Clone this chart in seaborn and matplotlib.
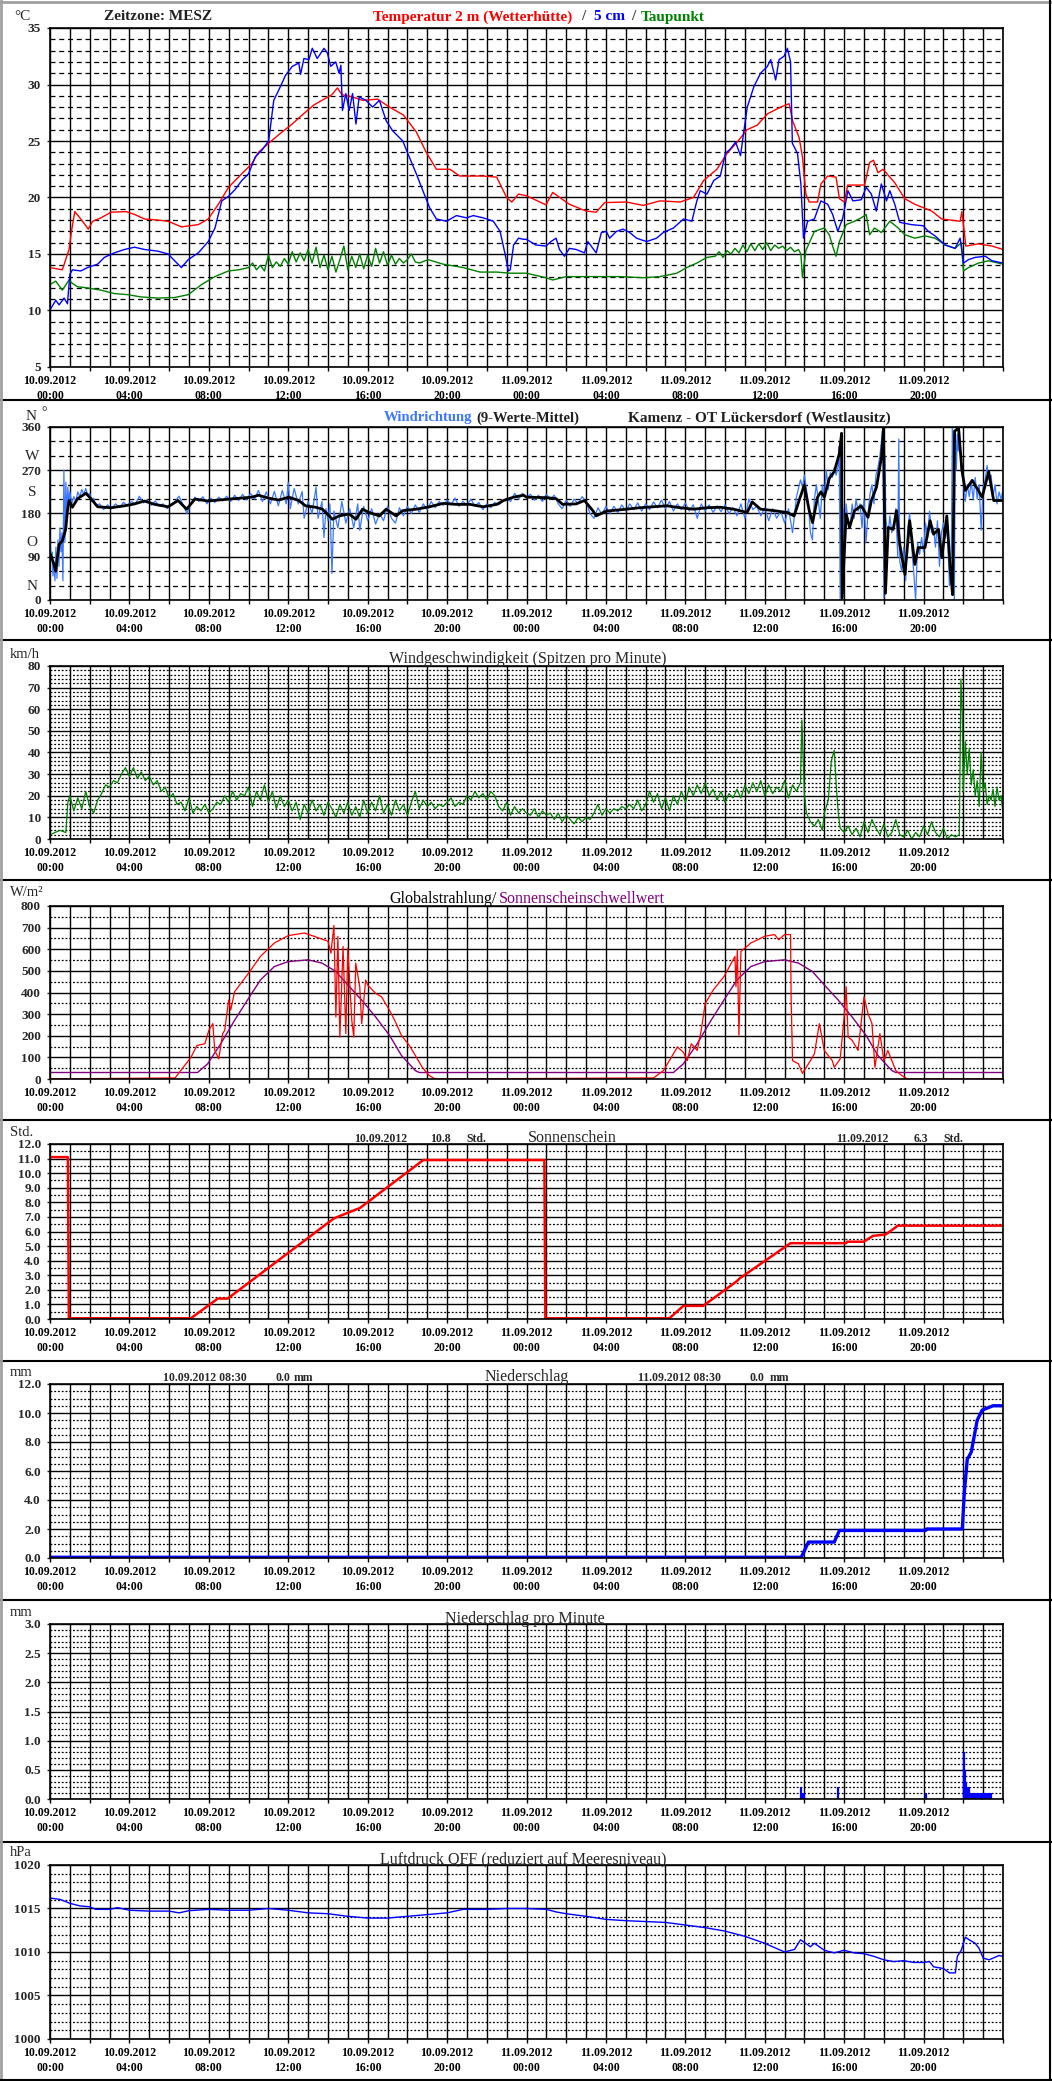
import seaborn as sns
import matplotlib
matplotlib.use('Agg')
import matplotlib.pyplot as plt
from matplotlib.ticker import MultipleLocator, FixedLocator
from matplotlib.lines import Line2D

# ---------------- data (hours since 10.09.2012 00:00) ----------------
temp_t = [0, 0.62, 0.96, 1.08, 1.25, 1.55, 1.93, 2.15, 2.57, 3.07, 3.83, 4.26, 4.76, 5.44, 5.95, 6.62,
          7.47, 7.97, 8.48, 8.99, 9.66, 10.17, 10.5, 11.01, 11.69, 12.2, 12.7, 13.3, 13.7, 14.2, 14.48,
          14.7, 15.24, 15.74, 16.5, 17.1, 17.8, 18.45, 18.95, 19.46, 20.14, 20.64, 21.82, 22.5, 23.0,
          23.26, 23.6, 24.0, 24.98, 25.32, 26.16, 27.0, 27.51, 27.94, 29.03, 29.88, 30.72, 31.74, 32.41,
          32.92, 33.59, 34.1, 34.61, 35.11, 35.62, 36.13, 36.8, 37.23, 37.4, 37.73, 37.9, 38.07, 38.24,
          38.66, 38.83, 39.17, 39.59, 39.76, 40.01, 40.18, 41.03, 41.28, 41.48, 41.7, 41.96, 42.55,
          43.05, 43.56, 44.41, 44.91, 45.84, 45.93, 46.13, 46.77, 47.45, 48.0]
temp_v = [13.8, 13.6, 15.4, 17.0, 18.75, 18.1, 17.2, 17.9, 18.2, 18.7, 18.75, 18.5, 18.1, 18.0, 17.9, 17.4,
          17.6, 18.1, 19.4, 20.9, 22.1, 23.0, 24.0, 24.8, 25.8, 26.5, 27.3, 28.2, 28.6, 29.1, 29.7,
          29.1, 28.9, 28.6, 28.7, 28.0, 27.3, 25.8, 24.0, 22.5, 22.5, 21.9, 21.9, 21.8, 20.0,
          19.6, 20.3, 20.15, 19.35, 20.45, 19.4, 18.8, 18.7, 19.55, 19.6, 19.3, 19.7, 19.6, 20.0,
          21.5, 22.5, 23.9, 24.9, 26.0, 26.4, 27.4, 28.0, 28.3, 26.8, 25.3, 23.6, 20.3, 19.6,
          19.6, 21.2, 21.9, 21.8, 19.9, 19.6, 21.1, 21.1, 23.1, 23.3, 22.2, 22.5, 21.3,
          19.9, 19.4, 18.8, 18.1, 17.9, 18.75, 15.7, 15.9, 15.7, 15.4]

soil_t = [0, 0.29, 0.46, 0.71, 0.88, 1.0, 1.13, 1.55, 1.89, 2.4, 2.74, 3.24, 3.75, 4.26, 4.76, 5.44, 5.95,
          6.28, 6.62, 6.96, 7.47, 7.97, 8.31, 8.65, 8.99, 9.32, 9.66, 10.0, 10.34, 10.68, 11.01, 11.1,
          11.27, 11.52, 11.86, 12.2, 12.53, 12.62, 12.79, 13.04, 13.21, 13.46, 13.8, 13.97, 14.14, 14.39,
          14.56, 14.65, 14.73, 14.9, 15.07, 15.24, 15.41, 15.57, 15.91, 16.25, 16.59, 16.93, 17.26, 17.77,
          18.02, 18.45, 18.78, 19.12, 19.46, 19.97, 20.47, 20.98, 21.32, 21.82, 22.33, 22.67, 22.92,
          23.09, 23.18, 23.35, 23.6, 23.85, 24.0, 24.47, 24.98, 25.23, 25.49, 25.66, 25.91, 26.16, 26.5,
          26.92, 27.09, 27.34, 27.51, 27.77, 28.02, 28.19, 28.53, 28.86, 29.2, 29.54, 30.05, 30.55, 30.89,
          31.4, 31.91, 32.33, 32.58, 32.75, 33.09, 33.43, 33.76, 34.02, 34.27, 34.53, 34.78, 34.95, 35.12,
          35.45, 35.79, 36.13, 36.3, 36.55, 36.72, 36.97, 37.14, 37.3, 37.39, 37.65, 37.82, 37.95, 38.16,
          38.5, 38.83, 39.17, 39.42, 39.68, 39.93, 40.19, 40.44, 40.86, 41.11, 41.37, 41.62, 41.87, 42.13,
          42.3, 42.55, 42.8, 43.39, 43.98, 44.24, 44.58, 45.08, 45.59, 45.84, 46.01, 46.26, 46.6, 47.11,
          47.45, 48.0]
soil_v = [10.05, 10.9, 10.5, 11.1, 10.6, 13.2, 13.6, 13.5, 13.8, 14.1, 14.7, 15.1, 15.4, 15.6, 15.4, 15.25, 15.0,
          14.4, 13.8, 14.5, 15.1, 16.1, 17.3, 19.7, 20.1, 20.7, 21.5, 22.1, 23.6, 24.2, 25.0, 26.2,
          28.6, 29.5, 30.8, 31.6, 31.9, 30.9, 32.3, 32.2, 33.2, 32.3, 33.2, 32.8, 31.6, 32.0,
          31.0, 31.7, 27.7, 29.2, 27.7, 29.2, 26.5, 28.9, 28.6, 28.0, 28.6, 26.8, 25.9, 25.0,
          23.9, 22.1, 20.6, 19.1, 18.1, 17.9, 18.4, 18.2, 18.4, 18.2, 17.9, 17.0, 15.0,
          13.5, 13.6, 15.8, 16.4, 16.3, 16.3, 15.8, 15.7, 16.1, 16.4, 15.4, 14.8, 15.5, 15.4,
          15.1, 16.1, 15.5, 15.1, 16.9, 17.0, 16.4, 17.0, 17.2, 16.9, 16.4, 16.1, 16.4, 16.9,
          17.3, 18.1, 17.9, 19.7, 20.6, 20.3, 21.5, 21.9, 23.9, 24.3, 24.9, 23.7, 25.9, 28.0,
          29.8, 31.0, 31.6, 32.2, 30.4, 32.2, 32.5, 33.2, 32.0, 24.8, 23.9, 21.2, 16.4, 17.9,
          18.1, 19.7, 19.4, 18.5, 17.0, 18.2, 20.6, 19.7, 19.8, 20.9, 20.3, 18.8, 21.2, 19.7,
          20.6, 19.4, 17.8, 17.6, 17.5, 17.0, 16.6, 15.8, 15.5, 16.4, 14.2, 14.5, 14.7, 14.8,
          14.4, 14.2]

dew_t = [0, 0.29, 0.62, 0.96, 1.13, 1.39, 1.89, 2.57, 3.24, 3.92, 4.59, 5.44, 6.28, 6.96, 7.64, 8.31,
         8.99, 9.49, 10.0, 10.2, 10.4, 10.6, 10.8, 11.0, 11.2, 11.4, 11.6, 11.8, 12.0, 12.2, 12.4, 12.6,
         12.8, 13.0, 13.2, 13.4, 13.6, 13.8, 14.0, 14.2, 14.4, 14.6, 14.8, 15.0, 15.2, 15.4, 15.6, 15.8,
         16.0, 16.2, 16.4, 16.6, 16.8, 17.0, 17.2, 17.4, 17.6, 17.8, 18.0, 18.2, 18.4, 18.6, 19.04, 19.8,
         20.81, 21.66, 22.5, 23.18, 24.0, 24.98, 25.32, 26.0, 27.34, 28.7, 29.88, 30.72, 31.57, 32.07,
         32.58, 33.09, 33.5, 33.7, 33.9, 34.1, 34.3, 34.5, 34.7, 34.9, 35.1, 35.3, 35.5, 35.7, 35.9,
         36.1, 36.3, 36.5, 36.7, 36.9, 37.1, 37.3, 37.5, 37.7, 37.82, 37.9, 38.07, 38.5, 39.0, 39.25,
         39.42, 39.59, 39.76, 40.1, 40.52, 40.86, 41.11, 41.28, 41.53, 41.87, 42.3, 42.72, 43.06, 43.56,
         44.07, 44.58, 45.08, 45.59, 45.9, 46.01, 46.26, 46.77, 47.27, 48.0]
dew_v = [12.3, 12.6, 11.8, 12.7, 12.4, 12.1, 12.0, 11.8, 11.5, 11.4, 11.2, 11.1, 11.15, 11.4, 12.3, 13.0,
         13.5, 13.6, 13.8, 14.2, 13.6, 14.0, 13.5, 14.9, 13.8, 14.3, 13.9, 14.6, 14.1, 15.2, 14.3, 15.1,
         14.4, 15.4, 14.2, 15.6, 13.8, 14.9, 13.6, 14.8, 13.4, 14.5, 15.7, 13.6, 14.8, 13.8, 15.0, 13.7,
         14.9, 13.9, 15.5, 14.2, 15.2, 14.0, 14.9, 14.1, 14.6, 14.2, 14.5, 15.0, 14.3, 14.2, 14.5, 14.1,
         13.8, 13.4, 13.4, 13.3, 13.3, 12.9, 12.7, 13.0, 13.0, 13.0, 12.9, 13.0, 13.3, 13.8,
         14.2, 14.7, 14.8, 15.2, 14.7, 15.3, 15.0, 15.5, 15.1, 15.8, 15.2, 15.9, 15.3, 15.9, 15.4,
         16.0, 15.3, 15.8, 15.5, 15.7, 15.3, 15.6, 15.2, 15.4, 15.0, 12.9, 15.3, 17.0, 17.3, 16.7,
         15.7, 14.8, 16.1, 17.6, 17.9, 18.2, 18.5, 16.7, 17.3, 16.9, 17.9, 17.3, 16.7, 16.4,
         16.6, 16.4, 15.8, 15.5, 16.0, 13.5, 13.8, 14.2, 14.4, 14.1]

dir_raw_t = [0.0, 0.05, 0.1, 0.15, 0.2, 0.25, 0.3, 0.35, 0.4, 0.45, 0.5, 0.55, 0.6, 0.65, 0.7, 0.75, 0.8,
             0.85, 0.9, 0.95, 1.0, 1.1, 1.2, 1.3, 1.4, 1.5, 1.6, 1.7, 1.8, 1.9, 2.0, 2.1, 2.2, 2.3, 2.5,
             2.7, 2.9, 3.1, 3.3, 3.5, 3.7, 3.9, 4.1, 4.3, 4.5, 4.7, 4.9, 5.1, 5.3, 5.5, 5.7, 5.9, 6.1,
             6.3, 6.5, 6.7, 6.9, 7.1, 7.3, 7.5, 7.7, 7.9, 8.1, 8.3, 8.5, 8.7, 8.9, 9.1, 9.3, 9.5, 9.7,
             9.9, 10.1, 10.3, 10.5, 10.7, 10.9, 11.1, 11.3, 11.5, 11.7, 11.9, 12.0, 12.1, 12.3, 12.5,
             12.7, 12.8, 13.0, 13.2, 13.4, 13.5, 13.7, 13.8, 13.9, 14.0, 14.1, 14.2, 14.3, 14.5, 14.7,
             14.9, 15.1, 15.3, 15.5, 15.6, 15.8, 16.0, 16.2, 16.4, 16.6, 16.8, 17.0, 17.2, 17.4, 17.6,
             17.8, 18.0, 18.2, 18.4, 18.6, 18.8, 19.0, 19.2, 19.4, 19.6, 19.8, 20.0, 20.2, 20.4, 20.6,
             20.8, 21.0, 21.2, 21.4, 21.6, 21.8, 22.0, 22.2, 22.4, 22.6, 22.8, 23.0, 23.2, 23.4, 23.6,
             23.8, 24.0, 24.2, 24.4, 24.6, 24.8, 25.0, 25.2, 25.4, 25.6, 25.8, 26.0, 26.2, 26.4, 26.6,
             26.8, 27.0, 27.2, 27.4, 27.6, 27.8, 28.0, 28.2, 28.4, 28.6, 28.8, 29.0, 29.2, 29.4, 29.6,
             29.8, 30.0, 30.2, 30.4, 30.6, 30.8, 31.0, 31.2, 31.4, 31.6, 31.8, 32.0, 32.2, 32.4, 32.6,
             32.8, 33.0, 33.2, 33.4, 33.6, 33.8, 34.0, 34.2, 34.4, 34.6, 34.8, 35.0, 35.2, 35.4, 35.6,
             35.8, 36.0, 36.2, 36.4, 36.6, 36.8, 37.0, 37.2, 37.4, 37.6, 37.8, 37.9, 38.0, 38.2, 38.3,
             38.4, 38.5, 38.6, 38.7, 38.8, 38.9, 39.0, 39.1, 39.2, 39.3, 39.4, 39.5, 39.6, 39.7, 39.75,
             39.8, 39.85, 39.9, 39.95, 40.0, 40.1, 40.2, 40.3, 40.4, 40.5, 40.6, 40.7, 40.8, 40.9, 41.0,
             41.1, 41.2, 41.3, 41.4, 41.5, 41.6, 41.7, 41.8, 41.9, 41.95, 42.0, 42.05, 42.1, 42.2, 42.3,
             42.4, 42.5, 42.6, 42.7, 42.75, 42.8, 42.9, 43.0, 43.1, 43.2, 43.3, 43.4, 43.5, 43.6, 43.7,
             43.8, 43.9, 44.0, 44.1, 44.2, 44.3, 44.4, 44.5, 44.6, 44.7, 44.8, 44.9, 45.0, 45.1, 45.2,
             45.3, 45.4, 45.45, 45.5, 45.55, 45.6, 45.65, 45.7, 45.75, 45.8, 45.9, 46.0, 46.1, 46.2, 46.3,
             46.4, 46.5, 46.6, 46.7, 46.8, 46.9, 47.0, 47.1, 47.2, 47.3, 47.4, 47.5, 47.6, 47.7, 47.8,
             47.9, 48.0]
dir_raw_v = [130, 90, 100, 50, 80, 40, 110, 45, 125, 70, 150, 100, 140, 40, 270, 120, 245,
             170, 235, 195, 225, 200, 215, 205, 225, 215, 230, 220, 232, 218, 222, 205, 212, 196, 200,
             188, 198, 190, 200, 193, 203, 196, 205, 200, 216, 202, 208, 197, 206, 195, 200, 190, 198,
             205, 216, 198, 180, 200, 214, 205, 215, 200, 212, 203, 214, 206, 216, 205, 218, 207, 220,
             208, 222, 210, 228, 205, 225, 200, 226, 196, 228, 200, 245, 190, 232, 200,
             226, 170, 205, 180, 235, 170, 205, 130, 190, 165, 200, 55, 185, 150, 205,
             160, 190, 150, 200, 145, 195, 165, 190, 158, 180, 165, 195, 170, 160, 192,
             175, 195, 180, 198, 182, 200, 188, 205, 192, 205, 197, 208, 198, 212, 195,
             205, 198, 210, 195, 203, 188, 200, 192, 203, 198, 205, 212, 205, 222, 210,
             222, 213, 220, 208, 218, 205, 220, 210, 218, 200, 190, 208, 195, 210, 200,
             215, 205, 180, 170, 192, 178, 195, 180, 195, 182, 198, 185, 200, 188, 202,
             185, 200, 188, 204, 192, 208, 190, 205, 185, 200, 188, 202, 185, 198, 170,
             200, 185, 198, 182, 196, 184, 198, 180, 192, 175, 200, 170, 210, 188, 195,
             175, 192, 165, 190, 170, 185, 160, 190, 140, 215, 250, 235, 260, 200, 140,
             125, 210, 240, 205, 170, 240, 215, 270, 230, 265, 255, 275, 260, 280, 320,
             0, 330, 10, 190, 130, 200, 160, 150, 200, 170, 210, 185, 200, 150, 210,
             120, 180, 220, 240, 200, 260, 275, 300, 340, 360, 5, 300, 170, 130, 175,
             140, 160, 190, 90, 335, 80, 60, 110, 40, 150, 180, 110, 60, 0, 120,
             95, 130, 100, 160, 130, 185, 140, 150, 110, 165, 70, 140, 160, 130, 150,
             30, 110, 360, 330, 0, 350, 270, 345, 310, 360, 270, 250, 205, 240, 215,
             245, 210, 255, 210, 240, 145, 235, 250, 280, 250, 260, 215, 240, 200, 225,
             210, 230]

dir_avg_t = [0.03, 0.2, 0.29, 0.37, 0.46, 0.62, 0.79, 0.88, 0.96, 1.13, 1.39, 1.81, 2.06, 2.4, 3.07,
             3.75, 4.26, 4.76, 5.27, 5.95, 6.45, 6.88, 7.3, 7.97, 8.48, 9.32, 10.17, 10.5, 11.01, 11.52,
             12.03, 12.53, 12.87, 13.38, 13.72, 13.97, 14.22, 14.56, 15.07, 15.41, 15.74, 16.08, 16.59,
             16.93, 17.43, 17.77, 18.45, 19.12, 19.8, 20.47, 21.15, 21.82, 22.5, 22.84, 23.35, 23.85,
             24.0, 24.98, 25.49, 25.82, 26.5, 26.92, 27.34, 27.51, 28.02, 28.53, 29.03, 29.71, 30.39,
             31.06, 31.74, 32.41, 33.09, 33.76, 34.44, 35.11, 35.37, 35.79, 36.47, 37.14, 37.48, 37.73,
             37.99, 38.24, 38.41, 38.66, 38.83, 39.0, 39.25, 39.5, 39.76, 39.87, 39.9, 40.1, 40.27,
             40.52, 40.86, 41.2, 41.37, 41.63, 41.88, 41.98, 42.08, 42.22, 42.47, 42.64, 42.8, 43.06,
             43.3, 43.56, 43.73, 44.07, 44.33, 44.5, 44.75, 44.92, 45.17, 45.34, 45.46, 45.56, 45.76,
             45.93, 46.1, 46.45, 46.7, 46.95, 47.28, 47.53, 48.0]
dir_avg_v = [95, 74, 60, 88, 116, 123, 147, 186, 207, 193, 211, 222, 211, 194, 192,
             196, 200, 206, 199, 194, 207, 189, 210, 206, 208, 211, 214, 218, 212, 208,
             214, 207, 196, 193, 189, 179, 168, 175, 179, 168, 189, 182, 175,
             189, 175, 186, 189, 194, 201, 199, 199, 194, 199, 207, 214, 218,
             214, 213, 211, 199, 200, 207, 186, 175, 185, 187, 189, 192, 194,
             196, 192, 189, 192, 193, 189, 182, 204, 189, 186, 182, 175, 207,
             239, 186, 161, 214, 225, 214, 253, 267, 305, 347, 4, 179, 151,
             186, 196, 172, 207, 235, 298, 358, 14, 151, 147, 186, 116, 53,
             165, 74, 109, 109, 165, 137, 147, 88, 175, 67, 11, 351, 358,
             270, 228, 249, 232, 214, 267, 207, 207]

gust_t = [0, 0.5, 0.8, 0.9, 1.0, 1.2, 1.4, 1.6, 1.8, 2.0, 2.2, 2.4, 2.6, 2.8, 3.0, 3.2, 3.4, 3.6, 3.8,
          4.0, 4.2, 4.4, 4.6, 4.8, 5.0, 5.2, 5.4, 5.6, 5.8, 6.0, 6.2, 6.4, 6.6, 6.8, 7.0, 7.2, 7.4, 7.6,
          7.8, 8.0, 8.2, 8.4, 8.6, 8.8, 9.0, 9.2, 9.4, 9.6, 9.8, 10.0, 10.2, 10.4, 10.6, 10.8, 11.0,
          11.2, 11.4, 11.6, 11.8, 12.0, 12.2, 12.4, 12.6, 12.8, 13.0, 13.2, 13.4, 13.6, 13.8, 14.0,
          14.2, 14.4, 14.6, 14.8, 15.0, 15.2, 15.4, 15.6, 15.8, 16.0, 16.2, 16.4, 16.6, 16.8, 17.0,
          17.2, 17.4, 17.6, 17.8, 18.0, 18.2, 18.4, 18.6, 18.8, 19.0, 19.2, 19.4, 19.6, 19.8, 20.0,
          20.2, 20.4, 20.6, 20.8, 21.0, 21.2, 21.4, 21.6, 21.8, 22.0, 22.2, 22.4, 22.6, 22.8, 23.0,
          23.2, 23.4, 23.6, 23.8, 24.0, 24.2, 24.4, 24.6, 24.8, 25.0, 25.2, 25.4, 25.6, 25.8, 26.0,
          26.2, 26.4, 26.6, 26.8, 27.0, 27.2, 27.4, 27.6, 27.8, 28.0, 28.2, 28.4, 28.6, 28.8, 29.0,
          29.2, 29.4, 29.6, 29.8, 30.0, 30.2, 30.4, 30.6, 30.8, 31.0, 31.2, 31.4, 31.6, 31.8, 32.0,
          32.2, 32.4, 32.6, 32.8, 33.0, 33.2, 33.4, 33.6, 33.8, 34.0, 34.2, 34.4, 34.6, 34.8, 35.0,
          35.2, 35.4, 35.6, 35.8, 36.0, 36.2, 36.4, 36.6, 36.8, 37.0, 37.2, 37.4, 37.6, 37.8, 37.87,
          38.0, 38.1, 38.3, 38.5, 38.7, 38.9, 39.0, 39.2, 39.35, 39.5, 39.6, 39.7, 39.8, 40.0, 40.2,
          40.4, 40.6, 40.8, 41.0, 41.2, 41.4, 41.6, 41.8, 42.0, 42.2, 42.4, 42.6, 42.8, 43.0, 43.2,
          43.4, 43.6, 43.8, 44.0, 44.2, 44.4, 44.6, 44.8, 45.0, 45.2, 45.4, 45.6, 45.8, 45.88, 45.95,
          46.0, 46.1, 46.2, 46.3, 46.4, 46.5, 46.6, 46.7, 46.8, 46.9, 47.0, 47.1, 47.2, 47.3, 47.4,
          47.5, 47.6, 47.7, 47.8, 47.9, 48.0]
gust_v = [2, 4, 3, 17, 20, 13, 19, 14, 22, 15, 12, 18, 21, 25, 24, 27, 26, 30, 33,
          29, 33, 28, 31, 27, 29, 25, 27, 22, 24, 19, 21, 16, 17, 13, 19, 12, 15, 13,
          16, 12, 14, 17, 16, 20, 17, 22, 18, 21, 20, 24, 15, 22, 18, 25, 17,
          22, 14, 20, 15, 18, 13, 17, 9, 16, 12, 18, 13, 16, 11, 17,
          14, 10, 16, 12, 17, 11, 15, 10, 18, 12, 17, 13, 20, 12, 16,
          11, 18, 13, 16, 11, 17, 22, 14, 18, 15, 17, 14, 16, 15, 17,
          19, 15, 17, 16, 20, 18, 22, 19, 21, 18, 22, 20, 15, 13, 17,
          11, 15, 12, 14, 12, 11, 14, 10, 13, 11, 12, 9, 12, 8, 11,
          9, 7, 10, 8, 10, 9, 12, 16, 11, 14, 12, 14, 13, 15, 14,
          16, 14, 18, 13, 16, 22, 17, 21, 14, 19, 13, 20, 16, 22, 17,
          24, 20, 25, 21, 26, 20, 23, 18, 22, 17, 21, 19, 23, 19, 25,
          21, 26, 22, 27, 20, 25, 21, 24, 22, 27, 19, 25, 22, 26, 55,
          20, 12, 8, 6, 9, 4, 12, 18, 36, 41, 25, 12, 5, 3, 6,
          2, 5, 1, 8, 3, 9, 5, 2, 7, 1, 3, 9, 2, 1, 4,
          0, 3, 1, 6, 2, 8, 3, 1, 5, 0, 2, 1, 2, 74, 58,
          22, 45, 30, 42, 25, 32, 20, 27, 15, 40, 22, 26, 16, 20, 18,
          23, 15, 24, 18, 20, 12]

rad_t = [0, 6.3, 7.1, 7.4, 7.8, 8.0, 8.2, 8.3, 8.5, 8.7, 8.8, 9.0, 9.1, 9.3, 10.0, 10.6, 11.3, 12.0,
         12.8, 13.3, 14.0, 14.15, 14.3, 14.4, 14.5, 14.6, 14.76, 14.9, 15.0, 15.2, 15.3, 15.4, 15.6,
         15.7, 15.9, 16.0, 16.4, 16.7, 17.1, 17.4, 17.7, 18.1, 18.4, 18.75, 19.1, 19.4, 30.4, 30.9,
         31.6, 31.9, 32.1, 32.3, 32.6, 32.8, 33.0, 33.4, 33.95, 34.5, 34.55, 34.62, 34.7, 34.8, 35.3,
         36.0, 36.5, 36.7, 37.0, 37.3, 37.33, 37.4, 37.7, 37.9, 38.2, 38.5, 38.75, 39.0, 39.4, 39.5,
         39.8, 40.0, 40.1, 40.2, 40.4, 40.7, 41.0, 41.2, 41.4, 41.55, 41.8, 42.0, 42.2, 42.6, 42.9,
         43.2, 48.0]
rad_v = [0, 5, 100, 155, 163, 225, 256, 132, 93, 210, 225, 365, 318, 404, 489, 567, 629, 663,
         675, 660, 637, 582, 710, 287, 660, 194, 613, 210, 606, 272, 194, 536, 427,
         256, 458, 435, 396, 380, 318, 264, 202, 155, 109, 54, 16, 0, 5, 39,
         148, 124, 85, 163, 132, 225, 349, 411, 474, 567, 427, 598, 202, 590, 629,
         660, 668, 644, 668, 668, 365, 85, 70, 26, 70, 116, 256, 132, 85, 54,
         93, 287, 427, 194, 179, 132, 380, 303, 256, 54, 210, 85, 132, 39, 16,
         0, 0]

thresh_t = [0, 7.43, 7.94, 8.6, 9.3, 10.0, 10.6, 11.3, 12.0, 13.0, 13.7, 14.4, 15.0, 15.7, 16.4, 17.1,
            17.7, 18.4, 18.6, 31.4, 31.9, 32.6, 33.3, 34.0, 34.6, 35.3, 36.0, 37.0, 37.7, 38.4, 39.0,
            39.7, 40.4, 41.1, 41.7, 42.4, 42.6, 48.0]
thresh_v = [30, 30, 70, 163, 272, 373, 458, 520, 543, 551, 536, 497, 435, 365, 287, 202,
            109, 39, 30, 30, 70, 163, 272, 373, 458, 520, 543, 551, 536, 497, 435,
            365, 287, 202, 109, 39, 30, 30]

sun_t = [0, 0.9, 0.95, 7.1, 8.45, 8.95, 14.3, 15.4, 15.6, 18.8, 24.9, 24.95, 31.2, 31.9, 32.9,
         34.6, 34.75, 37.3, 40.1, 40.15, 40.98, 41.45, 42.1, 42.7, 48.0]
sun_v = [11.1, 11.1, 0.05, 0.05, 1.4, 1.4, 6.9, 7.5, 7.6, 10.9, 10.9, 0.05, 0.05, 0.9, 0.9,
         2.6, 2.8, 5.2, 5.2, 5.3, 5.3, 5.7, 5.8, 6.4, 6.4]

rain_sum_t = [0, 37.84, 38.2, 39.5, 39.76, 44.1, 44.15, 45.95, 46.05, 46.2, 46.4, 46.7, 46.95, 47.5, 48.0]
rain_sum_v = [0.05, 0.05, 1.1, 1.1, 1.9, 1.9, 2.0, 2.0, 4.5, 6.8, 7.3, 9.5, 10.2, 10.5, 10.5]

rain_min_t = [37.84, 37.87, 37.9, 37.93, 37.96, 39.7, 44.13, 46.03, 46.05, 46.08, 46.1, 46.13, 46.17,
              46.2, 46.23, 46.27, 46.3, 46.35, 46.4, 46.45, 46.5, 46.55, 46.6, 46.65, 46.7, 46.75,
              46.8, 46.85, 46.9, 46.95, 47.0, 47.1, 47.2, 47.3, 47.4]
rain_min_v = [0.2, 0.1, 0.1, 0.1, 0.1, 0.2, 0.1, 0.8, 0.5, 0.5, 0.3, 0.3, 0.1,
              0.1, 0.2, 0.2, 0.1, 0.1, 0.1, 0.1, 0.1, 0.1, 0.1, 0.1, 0.1, 0.1,
              0.1, 0.1, 0.1, 0.1, 0.1, 0.1, 0.1, 0.1, 0.1]

qff_t = [0, 0.5, 1, 1.5, 2, 2.3, 3, 3.4, 4, 5, 6, 6.5, 7, 8, 9, 10, 11, 12, 13, 14, 15, 16, 17, 18, 19,
         20, 20.6, 20.8, 21, 22, 23, 24, 25, 25.5, 26, 27, 28, 29, 30, 31, 32, 33, 34, 35, 36, 36.5, 37,
         37.5, 37.8, 38, 38.3, 38.5, 39, 39.5, 40, 40.5, 41, 41.5, 42, 42.5, 43, 43.5, 44, 44.3, 44.5,
         45, 45.3, 45.6, 45.7, 45.9, 46.1, 46.3, 46.6, 46.8, 47.0, 47.3, 47.6, 47.8, 48]
qff_v = [1016.2, 1016.05, 1015.6, 1015.3, 1015.2, 1014.9, 1014.9, 1015.1, 1014.8, 1014.7, 1014.7, 1014.5,
         1014.75, 1014.9, 1014.8, 1014.8, 1015.0, 1014.8, 1014.5, 1014.4, 1014.1, 1013.9, 1013.9, 1014.1,
         1014.3, 1014.5, 1014.8, 1014.9, 1014.9, 1014.9, 1015.0, 1015.0, 1014.9, 1014.6, 1014.4, 1014.1,
         1013.75, 1013.6, 1013.5, 1013.4, 1013.1, 1012.8, 1012.4, 1011.8, 1011.0, 1010.5, 1010.0,
         1010.3, 1011.4, 1011.1, 1010.6, 1011.0, 1010.2, 1009.9, 1010.2, 1009.9, 1009.8, 1009.5, 1009.1,
         1008.9, 1009.0, 1008.8, 1008.8, 1008.9, 1008.3, 1008.1, 1007.6, 1007.6, 1009.5, 1010.2, 1011.7,
         1011.4, 1011.0, 1010.4, 1009.3, 1009.1, 1009.4, 1009.6, 1009.5]

xtick_hours = list(range(0, 49, 2))
day_labels = ['10.09.2012', '11.09.2012']

# ---------------- layout ----------------
W, H = 1052, 2081
panels_px = [(28, 367), (427, 600), (666, 839), (906, 1079),
             (1144, 1319), (1384, 1558), (1624, 1799), (1865, 2039)]
separators_px = [400, 640, 880, 1120, 1361, 1600, 1842]

sns.set_style('white')
plt.rcParams['font.family'] = ['Liberation Serif', 'DejaVu Serif']

fig = plt.figure(figsize=(W / 100, H / 100), dpi=100)
fig.patch.set_facecolor('white')
renderer = fig.canvas.get_renderer()

axes = []
for top, bot in panels_px:
    ax = fig.add_axes([50 / W, 1 - bot / H, 953 / W, (bot - top) / H])
    axes.append(ax)


def fx(px):
    return px / W


def fy(py):
    return 1 - py / H


def setup(ax, ymin, ymax, major, minor, fmt, dashes):
    ax.set_xlim(0, 48)
    ax.set_ylim(ymin, ymax)
    ax.xaxis.set_major_locator(FixedLocator(xtick_hours))
    ax.xaxis.set_minor_locator(MultipleLocator(1))
    labels = []
    for h in xtick_hours:
        if h % 4 == 0 and h < 48:
            labels.append(f'{day_labels[h // 24]}\n{h % 24:02d}:00')
        else:
            labels.append('')
    ax.set_xticklabels(labels)
    ax.yaxis.set_major_locator(MultipleLocator(major))
    ax.yaxis.set_minor_locator(MultipleLocator(minor))
    ax.yaxis.set_major_formatter(plt.FuncFormatter(lambda v, p: fmt.format(v)))
    ax.grid(False)
    ax.xaxis.grid(True, which='both', color='black', lw=1.0)
    ax.yaxis.grid(True, which='major', color='black', lw=1.0)
    ax.yaxis.grid(True, which='minor', color='black', lw=0.9, ls=(0, dashes))
    ax.set_axisbelow(True)
    ax.tick_params(axis='x', which='major', direction='out', length=3, width=1, pad=3,
                   labelsize=8.5, colors='black', bottom=True)
    ax.tick_params(axis='x', which='minor', length=0)
    ax.tick_params(axis='y', which='major', direction='out', length=2.5, width=1, pad=4,
                   labelsize=9.5, left=True)
    ax.tick_params(axis='y', which='minor', length=0)
    for lbl in ax.get_xticklabels() + ax.get_yticklabels():
        lbl.set_fontweight('bold')
        lbl.set_linespacing(1.25)
    for sp in ax.spines.values():
        sp.set_color('black')
        sp.set_linewidth(1.2)
    ax.set_xlabel('')
    ax.set_ylabel('')


def line(ax, t, v, color, lw):
    sns.lineplot(x=t, y=v, ax=ax, color=color, linewidth=lw, estimator=None,
                 sort=False, errorbar=None, legend=False)


def chain(parts, x_px, y_px, size, weight):
    # place text pieces one after another, gap in pixels before each piece
    x = x_px
    for text, color, gap in parts:
        x += gap
        t = fig.text(fx(x), fy(y_px), text, fontsize=size, fontweight=weight,
                     color=color, ha='left', va='center')
        x = t.get_window_extent(renderer).x1


# panel 1: temperatures
ax = axes[0]
line(ax, dew_t, dew_v, '#008000', 1.0)
line(ax, temp_t, temp_v, '#ff0000', 1.0)
line(ax, soil_t, soil_v, '#0000ff', 1.0)
setup(ax, 5, 35, 5, 1, '{:.0f}', (4, 3))

# panel 2: wind direction
ax = axes[1]
line(ax, dir_raw_t, dir_raw_v, '#3b78ff', 0.9)
line(ax, dir_avg_t, dir_avg_v, 'black', 2.0)
setup(ax, 0, 360, 90, 30, '{:.0f}', (4, 3))

# panel 3: wind gusts
ax = axes[2]
line(ax, gust_t, gust_v, '#008000', 0.9)
setup(ax, 0, 80, 10, 2, '{:.0f}', (1.5, 1.5))

# panel 4: radiation
ax = axes[3]
line(ax, thresh_t, thresh_v, '#800080', 1.0)
line(ax, rad_t, rad_v, '#ff0000', 0.9)
setup(ax, 0, 800, 100, 50, '{:.0f}', (1.5, 1.5))

# panel 5: sunshine duration
ax = axes[4]
line(ax, sun_t, sun_v, '#ff0000', 1.8)
setup(ax, 0, 12, 1, 0.5, '{:.1f}', (1.5, 1.5))

# panel 6: precipitation sum
ax = axes[5]
line(ax, rain_sum_t, rain_sum_v, '#0000ff', 2.4)
setup(ax, 0, 12, 2, 0.5, '{:.1f}', (1.5, 1.5))

# panel 7: precipitation per minute
ax = axes[6]
ax.vlines(rain_min_t, 0, rain_min_v, color='#0000ff', lw=1.6)
setup(ax, 0, 3, 0.5, 0.1, '{:.1f}', (1.5, 1.5))

# panel 8: pressure
ax = axes[7]
line(ax, qff_t, qff_v, '#0000ff', 1.0)
setup(ax, 1000, 1020, 5, 1, '{:.0f}', (1.5, 1.5))

# ---------------- texts ----------------
bold = dict(fontweight='bold', va='center', ha='left')
reg = dict(va='center', ha='left')

fig.text(fx(14), fy(16), '°C', fontsize=11, **reg)
fig.text(fx(104), fy(17), 'Zeitzone: MESZ', fontsize=11, color='#202020', **bold)
chain([('Temperatur 2 m (Wetterhütte)', '#ff0000', 0), ('/', '#404040', 9), ('5 cm', '#0000ff', 9),
       ('/', '#404040', 6), ('Taupunkt', '#008000', 5)], 373, 17, 11, 'bold')

fig.text(fx(26), fy(416), 'N', fontsize=11, **reg)
fig.text(fx(41), fy(413), '°', fontsize=10, **reg)
for letter, ypx in [('W', 457), ('S', 492), ('O', 543), ('N', 587)]:
    fig.text(fx(32), fy(ypx), letter, fontsize=11, ha='center', va='center')
chain([('Windrichtung', '#3b78ff', 0), ('(9-Werte-Mittel)', '#202020', 4)], 384, 418, 10.5, 'bold')
fig.text(fx(628), fy(418), 'Kamenz - OT Lückersdorf (Westlausitz)', fontsize=11, color='#202020', **bold)

fig.text(fx(10), fy(654), 'km/h', fontsize=10.5, **reg)
fig.text(fx(389), fy(659), 'Windgeschwindigkeit (Spitzen pro Minute)', fontsize=11.5, **reg)

fig.text(fx(10), fy(893), 'W/m²', fontsize=10.5, **reg)
chain([('Globalstrahlung/', 'black', 0), ('Sonnenscheinschwellwert', '#800080', 2)], 389, 899, 11.5, 'normal')

fig.text(fx(10), fy(1132), 'Std.', fontsize=10.5, **reg)
fig.text(fx(354), fy(1139), '10.09.2012', fontsize=8.5, **bold)
fig.text(fx(430), fy(1139), '10.8', fontsize=8.5, **bold)
fig.text(fx(466), fy(1139), 'Std.', fontsize=8.5, **bold)
fig.text(fx(528), fy(1138), 'Sonnenschein', fontsize=11.5, **reg)
fig.text(fx(836), fy(1139), '11.09.2012', fontsize=8.5, **bold)
fig.text(fx(914), fy(1139), '6.3', fontsize=8.5, **bold)
fig.text(fx(943), fy(1139), 'Std.', fontsize=8.5, **bold)

fig.text(fx(10), fy(1373), 'mm', fontsize=10.5, **reg)
fig.text(fx(163), fy(1378), '10.09.2012 08:30', fontsize=8.5, **bold)
fig.text(fx(275), fy(1378), '0.0', fontsize=8.5, **bold)
fig.text(fx(294), fy(1378), 'mm', fontsize=8.5, **bold)
fig.text(fx(485), fy(1377), 'Niederschlag', fontsize=11.5, **reg)
fig.text(fx(638), fy(1378), '11.09.2012 08:30', fontsize=8.5, **bold)
fig.text(fx(750), fy(1378), '0.0', fontsize=8.5, **bold)
fig.text(fx(770), fy(1378), 'mm', fontsize=8.5, **bold)

fig.text(fx(10), fy(1613), 'mm', fontsize=10.5, **reg)
fig.text(fx(445), fy(1619), 'Niederschlag pro Minute', fontsize=11.5, **reg)

fig.text(fx(10), fy(1852), 'hPa', fontsize=10.5, **reg)
fig.text(fx(380), fy(1859), 'Luftdruck QFF (reduziert auf Meeresniveau)', fontsize=11.5, **reg)

# separators and frame
for ypx in separators_px:
    fig.add_artist(Line2D([0, 1], [fy(ypx), fy(ypx)], transform=fig.transFigure, color='black', lw=1.5))
fig.add_artist(Line2D([0.001, 0.001], [0, 1], transform=fig.transFigure, color='#a0a0a0', lw=2))
fig.add_artist(Line2D([0, 1], [0.999, 0.999], transform=fig.transFigure, color='#a0a0a0', lw=2))
fig.add_artist(Line2D([0.998, 0.998], [0, 1], transform=fig.transFigure, color='black', lw=1.5))
fig.add_artist(Line2D([0, 1], [0.0005, 0.0005], transform=fig.transFigure, color='black', lw=1.5))

fig.savefig('out.png', dpi=100, facecolor='white')
